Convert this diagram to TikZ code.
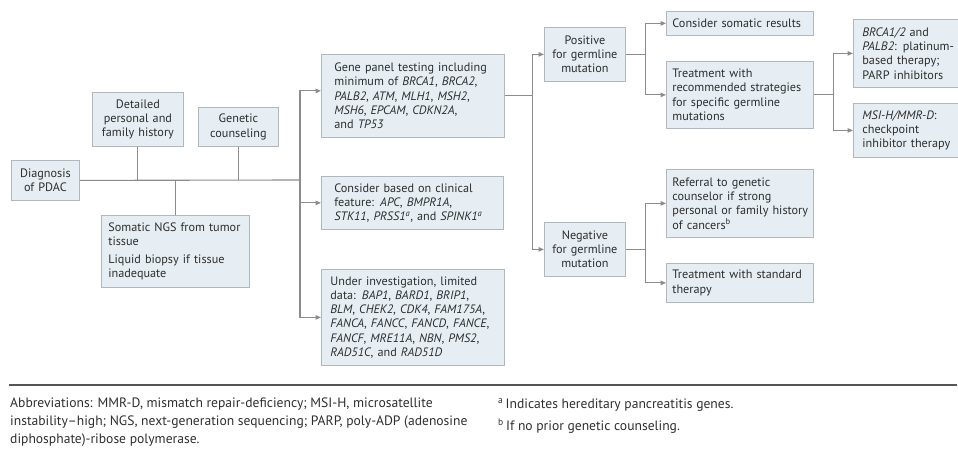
\documentclass[tikz,border=0pt]{standalone}
\usepackage{fontspec}
\setmainfont{PT Sans}
\usetikzlibrary{arrows.meta}

\definecolor{boxfill}{HTML}{E6EEF3}
\definecolor{boxline}{HTML}{AEB8BE}
\definecolor{linkgray}{HTML}{8C8C8C}
\definecolor{txtgray}{HTML}{2E2E2E}
\definecolor{rulegray}{HTML}{555555}

\begin{document}
\begin{tikzpicture}[
x=1pt, y=-1pt,
flowbox/.style={draw=boxline, fill=boxfill, line width=0.8pt, anchor=north west,
  inner ysep=0pt, text=txtgray, font=\fontsize{12.2}{14.3}\selectfont},
midbox/.style={flowbox, align=center, inner xsep=0pt},
leftbox/.style={flowbox, align=left},
link/.style={draw=linkgray, line width=1.1pt},
linkarrow/.style={link, -{Triangle[length=5.5pt,width=4.5pt]}},
notetext/.style={anchor=north west, inner sep=0pt, align=left, text=txtgray,
  font=\fontsize{13.6}{18}\selectfont}
]
\useasboundingbox (0,0) rectangle (958,457);

\node[midbox, text width=68pt, minimum height=40pt] (diag) at (11,160) {Diagnosis\\of PDAC};
\node[midbox, text width=91pt, minimum height=54pt] (hist) at (92,92) {Detailed\\personal and\\family history};
\node[midbox, text width=80pt, minimum height=39pt] (couns) at (198,107) {Genetic\\counseling};
\node[leftbox, inner xsep=7pt, text width=134pt, minimum height=72pt] (ngs) at (101,215)
  {Somatic NGS from tumor\\tissue\\[4pt]Liquid biopsy if tissue\\inadequate};

\node[leftbox, inner xsep=13pt, text width=157pt, minimum height=83pt] (gene) at (321,54)
  {Gene panel testing including\\minimum of \textit{BRCA1}, \textit{BRCA2},\\\textit{PALB2}, \textit{ATM}, \textit{MLH1}, \textit{MSH2},\\\textit{MSH6}, \textit{EPCAM}, \textit{CDKN2A},\\and \textit{TP53}};
\node[leftbox, inner xsep=13pt, text width=156pt, minimum height=53pt] (clin) at (321,176)
  {Consider based on clinical\\feature: \textit{APC}, \textit{BMPR1A},\\\textit{STK11}, \textit{PRSS1\textsuperscript{a}}, and \textit{SPINK1\textsuperscript{a}}};
\node[leftbox, inner xsep=9pt, text width=165pt, minimum height=96pt] (invest) at (321,269)
  {Under investigation, limited\\data: \textit{BAP1}, \textit{BARD1}, \textit{BRIP1},\\\textit{BLM}, \textit{CHEK2}, \textit{CDK4}, \textit{FAM175A},\\\textit{FANCA}, \textit{FANCC}, \textit{FANCD}, \textit{FANCE},\\\textit{FANCF}, \textit{MRE11A}, \textit{NBN}, \textit{PMS2},\\\textit{RAD51C}, and \textit{RAD51D}};

\node[midbox, text width=81pt, minimum height=54pt] (pos) at (544,27) {Positive\\for germline\\mutation};
\node[midbox, text width=81pt, minimum height=54pt] (neg) at (544,222) {Negative\\for germline\\mutation};

\node[leftbox, inner xsep=6pt, text width=135pt, minimum height=24pt] (somres) at (666,11) {Consider somatic results};
\node[leftbox, inner xsep=6pt, text width=135pt, minimum height=67pt] (treatrec) at (666,61)
  {Treatment with\\recommended strategies\\for specific germline\\mutations};
\node[leftbox, inner xsep=6pt, text width=135pt, minimum height=68pt] (referral) at (666,169)
  {Referral to genetic\\counselor if strong\\\mbox{personal or family history}\\of cancers\textsuperscript{b}};
\node[leftbox, inner xsep=6pt, text width=135pt, minimum height=39pt] (stdther) at (666,263)
  {Treatment with standard\\therapy};

\node[leftbox, inner xsep=9pt, text width=96pt, minimum height=68pt] (brca) at (853,19)
  {\textit{BRCA1/2} and\\\mbox{\textit{PALB2}: platinum-}\\based therapy;\\PARP inhibitors};
\node[leftbox, inner xsep=9pt, text width=96pt, minimum height=54pt] (msi) at (853,103)
  {\textit{MSI-H/MMR-D}:\\checkpoint\\inhibitor therapy};

\coordinate (split) at (300,180);
\draw[link] (diag.east) -- (split);
\draw[link] (hist.south) -- (hist.south |- split);
\draw[link] (couns.south) -- (couns.south |- split);
\draw[link] (ngs.north) -- (ngs.north |- split);
\draw[linkarrow] (split) |- ([yshift=5pt]gene.west);
\draw[linkarrow] (split) |- (clin.west);
\draw[linkarrow] (split) |- (invest.west);

\draw[link] (gene.east) -- ++(28,0) coordinate (genesplit);
\draw[linkarrow] (genesplit) |- (pos.west);
\draw[linkarrow] (genesplit) |- (neg.west);

\draw[link] (pos.east) -- ++(20,0) coordinate (possplit);
\draw[linkarrow] (possplit) |- (somres.west);
\draw[linkarrow] (possplit) |- (treatrec.west);

\draw[link] (neg.east) -- ++(20,0) coordinate (negsplit);
\draw[linkarrow] (negsplit) |- (referral.west);
\draw[linkarrow] (negsplit) |- (stdther.west);

\draw[link] (treatrec.east) -- ++(20,0) coordinate (treatsplit);
\draw[linkarrow] (treatsplit) |- (brca.west);
\draw[linkarrow] (treatsplit) |- (msi.west);

\draw[rulegray, line width=1.4pt] (9,385) coordinate (rulestart) -- (957,385) coordinate (ruleend);
\node[notetext] (abbrev) at (10,398)
  {Abbreviations: MMR-D, mismatch repair-deficiency; MSI-H, microsatellite\\instability–high; NGS, next-generation sequencing; PARP, poly-ADP (adenosine\\diphosphate)-ribose polymerase.};
\node[notetext] (notes) at (498,398)
  {\textsuperscript{a}\,Indicates hereditary pancreatitis genes.\\[4pt]\textsuperscript{b}\,If no prior genetic counseling.};

\end{tikzpicture}
\end{document}
